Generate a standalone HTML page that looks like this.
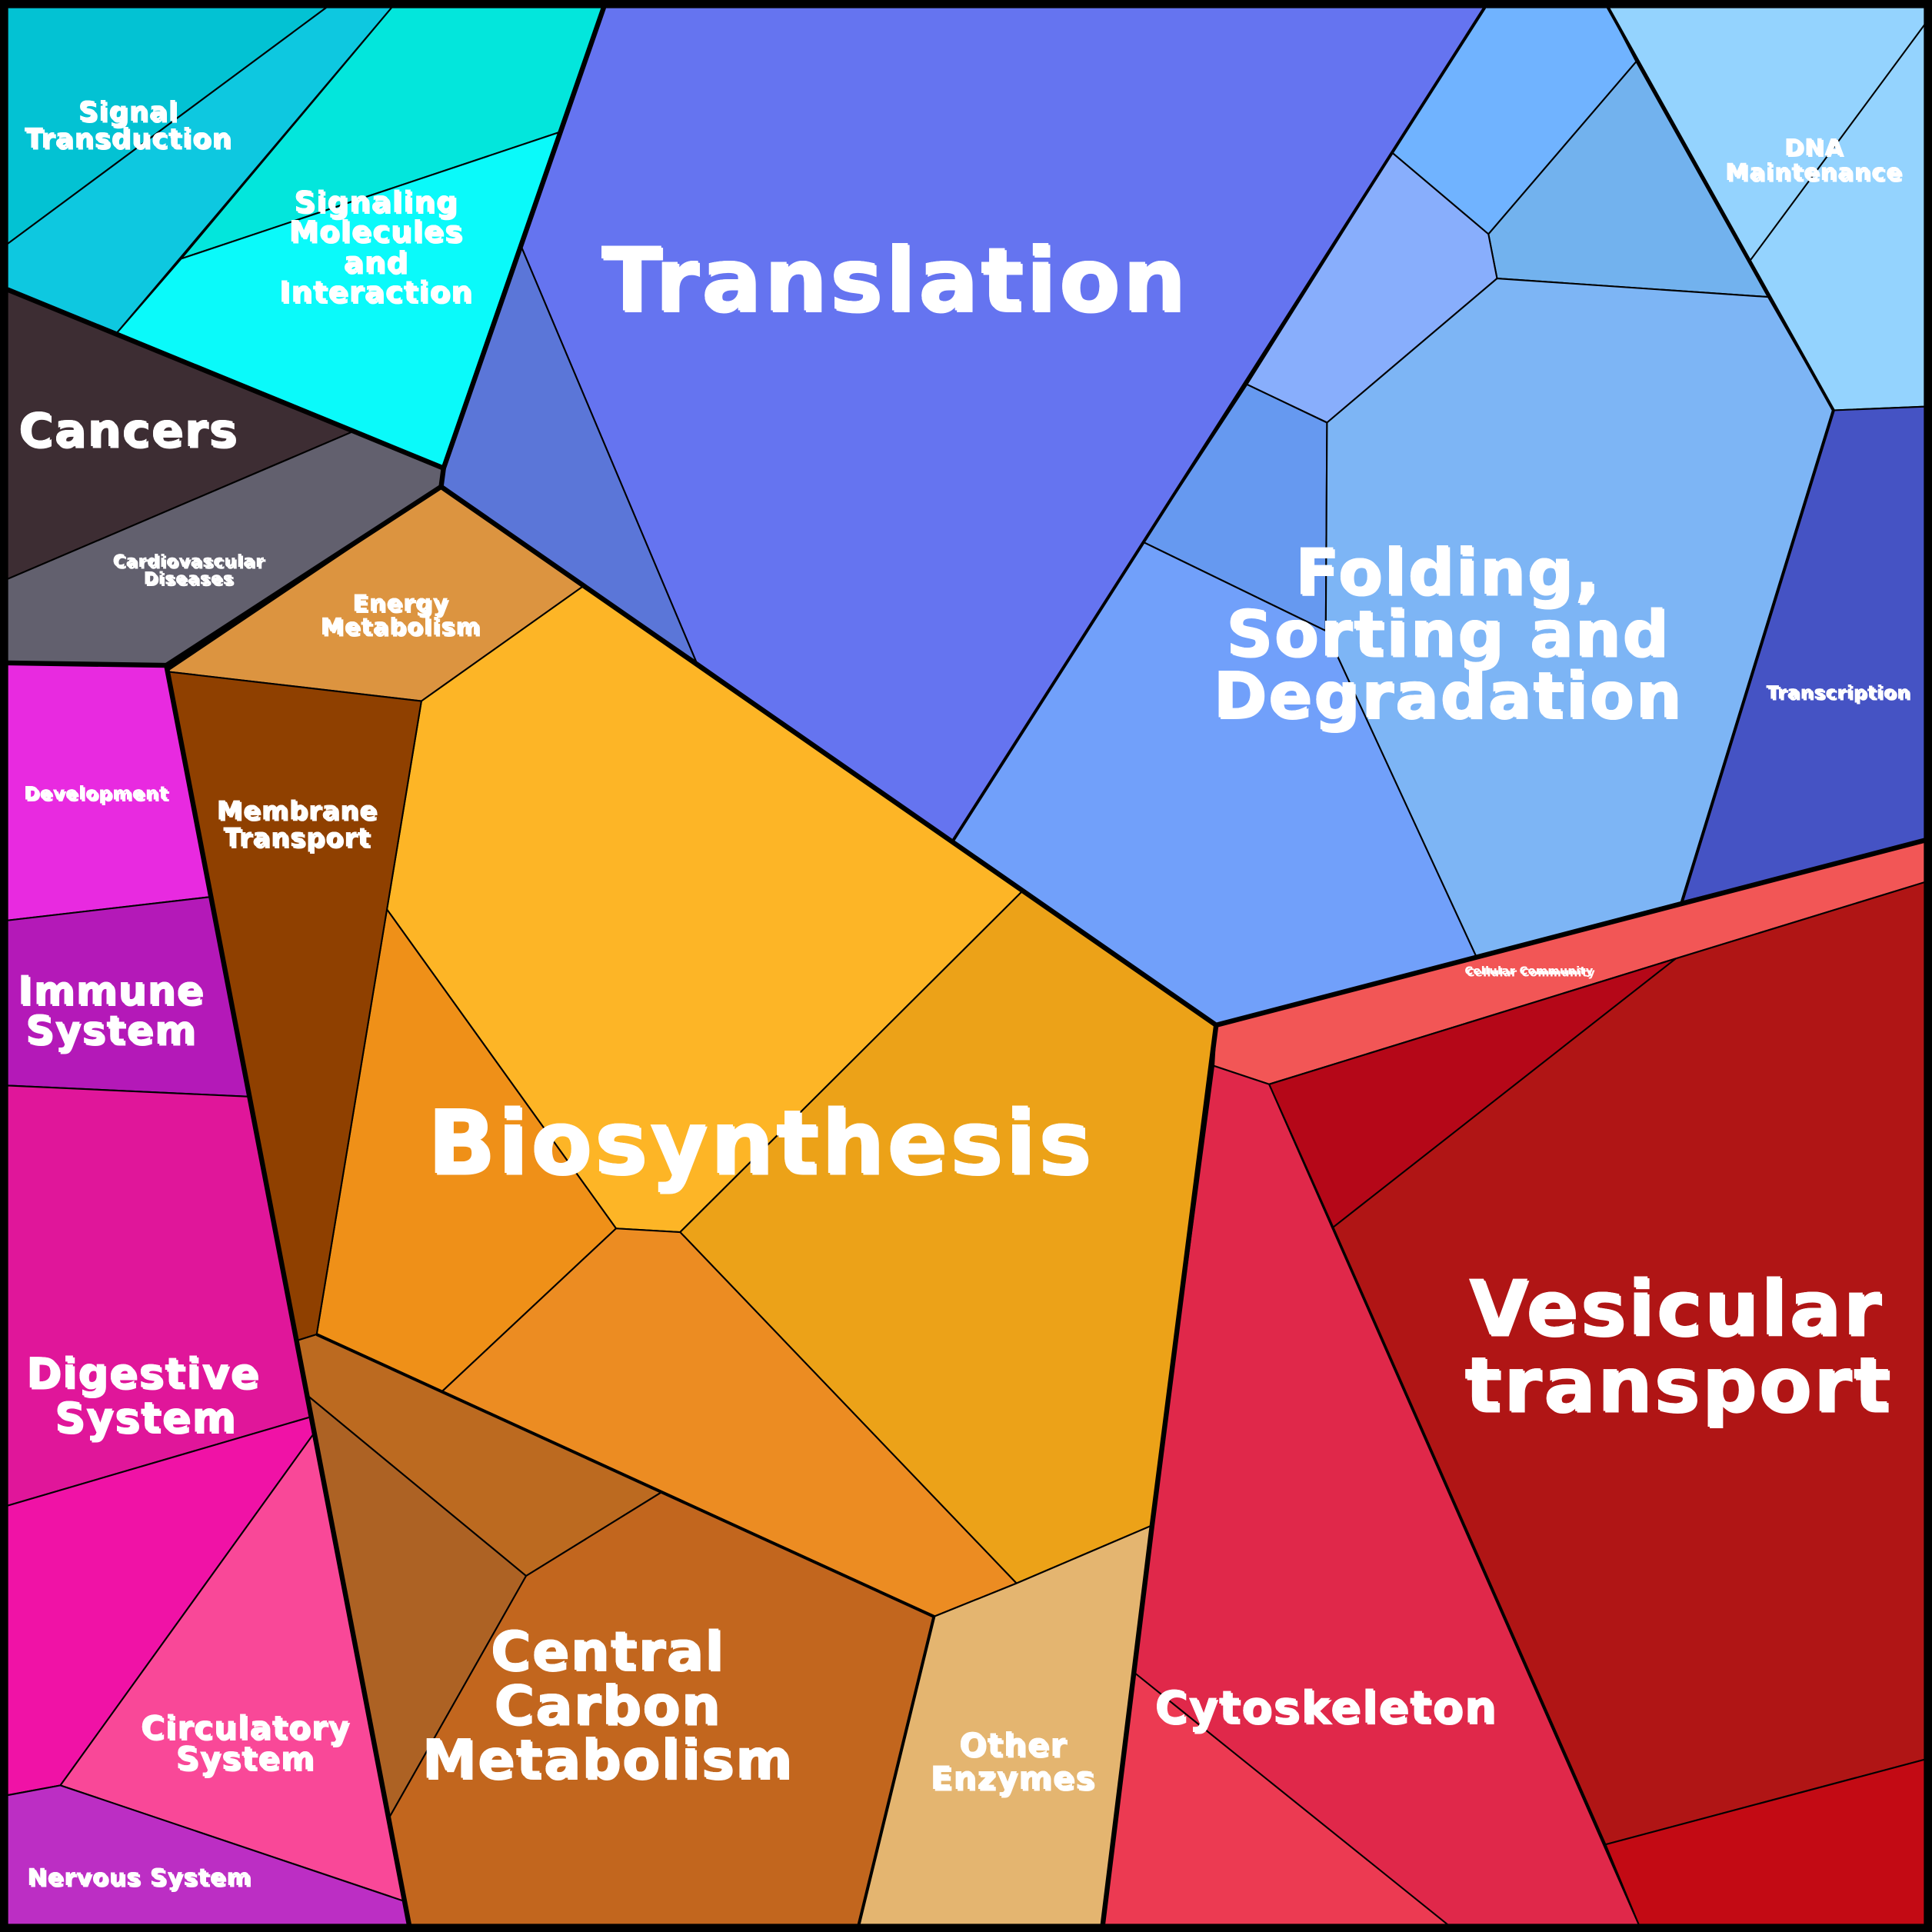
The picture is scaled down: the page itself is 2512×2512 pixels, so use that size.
<!DOCTYPE html>
<html><head><meta charset="utf-8"><style>
html,body{margin:0;padding:0;background:#000}
svg{display:block}
text{font-family:"DejaVu Sans","Liberation Sans",sans-serif;font-weight:bold;text-anchor:middle;letter-spacing:0.03em}
</style></head><body>
<svg width="2512" height="2512" viewBox="0 0 1568 1568" xmlns="http://www.w3.org/2000/svg">
<rect x="0" y="0" width="1568" height="1568" fill="#000"/>
<g stroke="#000" stroke-width="1.3" stroke-linejoin="round">
<polygon points="6,6 265,6 6,198" fill="#03c2d3"/>
<polygon points="265,6 318,6 95,270 6,235 6,198" fill="#0ec8e0"/>
<polygon points="318,6 490,6 455,107 147,210" fill="#03e6dc"/>
<polygon points="147,210 455,107 360,380 95,270" fill="#0afafa"/>
<polygon points="6,235 95,270 287,350 6,470" fill="#3d2d33"/>
<polygon points="6,470 287,350 360,380 358,395 135,540 6,538" fill="#62606e"/>
<polygon points="490,6 1205,6 773,683 565,537 423,200" fill="#6574f0"/>
<polygon points="423,200 565,537 358,395 360,380" fill="#5b76d8"/>
<polygon points="1205,6 1305,6 1328,50 1208,190 1130,124" fill="#70b3ff"/>
<polygon points="1328,50 1435,241 1215,226 1208,190" fill="#72b2ee"/>
<polygon points="1130,124 1208,190 1215,226 1077,343 1012,312" fill="#88aefc"/>
<polygon points="1012,312 1077,343 1076,512 928,440" fill="#6699f0"/>
<polygon points="928,440 1076,512 1198,776 987,832 773,683" fill="#71a0fa"/>
<polygon points="1215,226 1435,241 1488,333 1365,732 1198,776 1076,512 1077,343" fill="#7db5f5"/>
<polygon points="1305,6 1562,6 1562,330 1488,333" fill="#94d3fe"/>
<line x1="1420" y1="212" x2="1562" y2="20"/>
<polygon points="1488,333 1562,330 1562,682 1365,732" fill="#4553c4"/>
<polygon points="987,832 1562,682 1562,716 1360,778 1030,880 985,865" fill="#f25656"/>
<polygon points="1030,880 1360,778 1562,716 1562,1428 1303,1497 1082,996" fill="#b01515"/>
<polygon points="1030,880 1360,778 1082,996" fill="#b50718"/>
<polygon points="1303,1497 1562,1428 1562,1562 1330,1562" fill="#c30a14"/>
<polygon points="985,865 1030,880 1330,1562 895,1562 935,1238" fill="#e0284a"/>
<polygon points="920,1357 1175,1562 895,1562" fill="#ec3a52"/>
<polygon points="358,395 473,476 342,569 135,545" fill="#dc9440"/>
<polygon points="473,476 830,723 552,1000 500,997 314,738 342,569" fill="#fdb526"/>
<polygon points="830,723 987,832 935,1238 825,1285 552,1000" fill="#eca218"/>
<polygon points="314,738 500,997 358,1130 257,1083" fill="#ef9018"/>
<polygon points="500,997 552,1000 825,1285 758,1312 358,1130" fill="#ec8c22"/>
<polygon points="135,545 342,569 257,1083 241,1088" fill="#8f4000"/>
<polygon points="935,1238 895,1562 697,1562 758,1312 825,1285" fill="#e4b570"/>
<polygon points="241,1088 257,1083 537,1211 427,1279 250,1133" fill="#bc6a20"/>
<polygon points="250,1133 427,1279 316,1475" fill="#ad6224"/>
<polygon points="427,1279 537,1211 758,1312 697,1562 332,1562 316,1475" fill="#c2661e"/>
<polygon points="6,538 135,540 170,728 6,747" fill="#e82ae0"/>
<polygon points="6,747 170,728 202,890 6,881" fill="#b419b8"/>
<polygon points="6,881 202,890 252,1150 6,1222" fill="#e0169a"/>
<polygon points="6,1222 252,1150 255,1163 49,1449 6,1457" fill="#f012a6"/>
<polygon points="255,1163 49,1449 328,1543" fill="#f94898"/>
<polygon points="6,1457 49,1449 328,1543 332,1562 6,1562" fill="#bc2ec4"/>
</g>
<g stroke="#000" stroke-width="4" fill="none" stroke-linejoin="round">
<polyline points="6,235 287,350 360,380 490,6"/>
<polyline points="360,380 358,395 987,832 1562,682"/>
<polyline points="358,395 135,540 332,1562"/>
<polyline points="987,832 935,1238 895,1562"/>
<polyline points="135,540 6,538"/>
<polyline points="1205,6 773,683" stroke-width="2.5"/>
<polyline points="1305,6 1488,333 1365,732" stroke-width="2.5"/>
<polyline points="257,1083 758,1312 697,1562" stroke-width="2.5"/>
</g>
<rect x="3" y="3" width="1562" height="1562" fill="none" stroke="#000" stroke-width="6"/>
<g id="L">
<text font-size="22" x="104" y="98">Signal</text><text font-size="22" x="104" y="120">Transduction</text>
<text font-size="24" x="305" y="172">Signaling</text><text font-size="24" x="305" y="196">Molecules</text><text font-size="24" x="305" y="221">and</text><text font-size="24" x="305" y="245">Interaction</text>
<text font-size="72" x="726" y="252">Translation</text>
<text font-size="38" x="104" y="362">Cancers</text>
<text font-size="14" x="153" y="460">Cardiovascular</text><text font-size="14" x="153" y="474">Diseases</text>
<text font-size="19" x="325" y="496">Energy</text><text font-size="19" x="325" y="515">Metabolism</text>
<text font-size="52" x="1175" y="482">Folding,</text><text font-size="52" x="1175" y="532">Sorting and</text><text font-size="52" x="1175" y="582">Degradation</text>
<text font-size="19" x="1472" y="126">DNA</text><text font-size="19" x="1472" y="146">Maintenance</text>
<text font-size="15" x="1492" y="567">Transcription</text>
<text font-size="15" x="78" y="649">Development</text>
<text font-size="21" x="241" y="665">Membrane</text><text font-size="21" x="241" y="687">Transport</text>
<text font-size="32" x="90" y="815">Immune</text><text font-size="32" x="90" y="847">System</text>
<text font-size="72" x="617" y="952">Biosynthesis</text>
<text font-size="9" x="1241" y="791">Cellular Community</text>
<text font-size="62" x="1360" y="1083">Vesicular</text><text font-size="62" x="1362" y="1145">transport</text>
<text font-size="34" x="116" y="1126">Digestive</text><text font-size="34" x="118" y="1162">System</text>
<text font-size="44" x="493" y="1355">Central</text><text font-size="44" x="493" y="1399">Carbon</text><text font-size="44" x="493" y="1443">Metabolism</text>
<text font-size="36" x="1076" y="1398">Cytoskeleton</text>
<text font-size="26" x="199" y="1411">Circulatory</text><text font-size="26" x="199" y="1436">System</text>
<text font-size="26" x="822" y="1425">Other</text><text font-size="26" x="822" y="1452">Enzymes</text>
<text font-size="19" x="113" y="1530">Nervous System</text>
</g>
<use href="#L" x="1.5" y="1.5" style="fill:#000"/>
<use href="#L" style="fill:#fff"/>
<style>#L{fill:#fff}</style>
</svg>
</body></html>
